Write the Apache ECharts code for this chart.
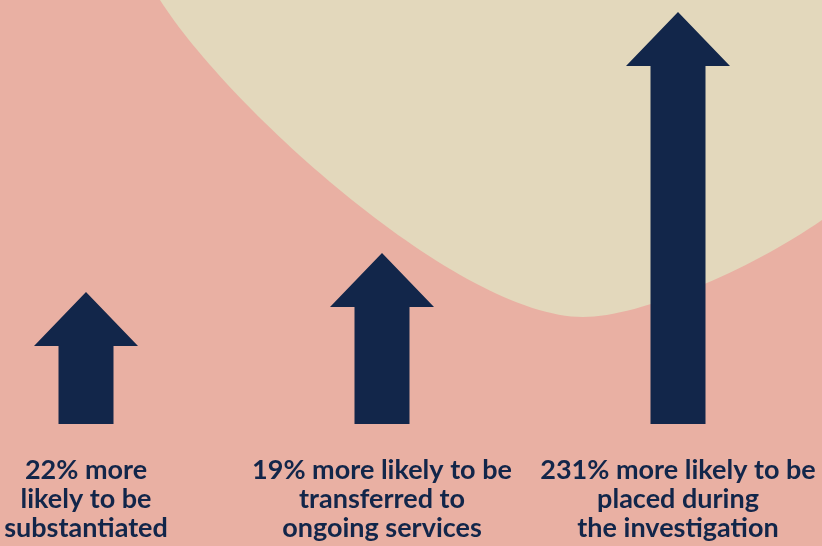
<!DOCTYPE html>
<html>
<head>
<meta charset="utf-8">
<script src="https://cdn.jsdelivr.net/npm/echarts@6/dist/echarts.min.js"></script>
<style>html,body{margin:0;padding:0;background:#e9b0a3;}#chart{width:822px;height:546px;}</style>
</head>
<body>
<div id="chart"></div>
<script>
// Data
const categories = [
  '22% more\nlikely to be\nsubstantiated',
  '19% more likely to be\ntransferred to\nongoing services',
  '231% more likely to be\nplaced during\nthe investigation'
];
const percentIncrease = [22, 19, 231];
// arrow heights as drawn in the graphic (relative units)
const arrowHeights = [132, 171, 412];

const navy = '#12264a';
const chart = echarts.init(document.getElementById('chart'));
chart.setOption({
  backgroundColor: '#e9b0a3',
  animation: false,
  grid: { left: -62, right: -4, top: 0, bottom: 122, outerBoundsMode: 'none', containLabel: false },
  xAxis: {
    type: 'category',
    data: categories,
    axisLine: { show: false },
    axisTick: { show: false },
    axisLabel: {
      margin: 32,
      color: navy,
      fontFamily: 'Lato',
      fontWeight: 'bold',
      fontSize: 27,
      lineHeight: 29,
      interval: 0,
      hideOverlap: false
    }
  },
  yAxis: { type: 'value', min: 0, max: 424, show: false },
  series: [{
    type: 'custom',
    silent: true,
    z: 1,
    data: [0],
    renderItem: function () {
      return {
        type: 'path',
        shape: {
          pathData: 'M160 0 C230 110 460 317 583 317 C640 317 750 270 822 220 L822 0 Z'
        },
        style: { fill: '#e3d8bc' }
      };
    }
  }, {
    type: 'custom',
    z: 2,
    data: arrowHeights.map((h, i) => [i, h, percentIncrease[i]]),
    renderItem: function (params, api) {
      const tip = api.coord([api.value(0), api.value(1)]);
      const base = api.coord([api.value(0), 0]);
      const cx = tip[0];
      const headH = 54, headW = 104, shaftW = 55;
      const hb = tip[1] + headH;
      return {
        type: 'polygon',
        shape: {
          points: [
            [cx, tip[1]],
            [cx + headW / 2, hb],
            [cx + shaftW / 2, hb],
            [cx + shaftW / 2, base[1]],
            [cx - shaftW / 2, base[1]],
            [cx - shaftW / 2, hb],
            [cx - headW / 2, hb]
          ]
        },
        style: { fill: navy }
      };
    }
  }]
});
</script>
</body>
</html>
